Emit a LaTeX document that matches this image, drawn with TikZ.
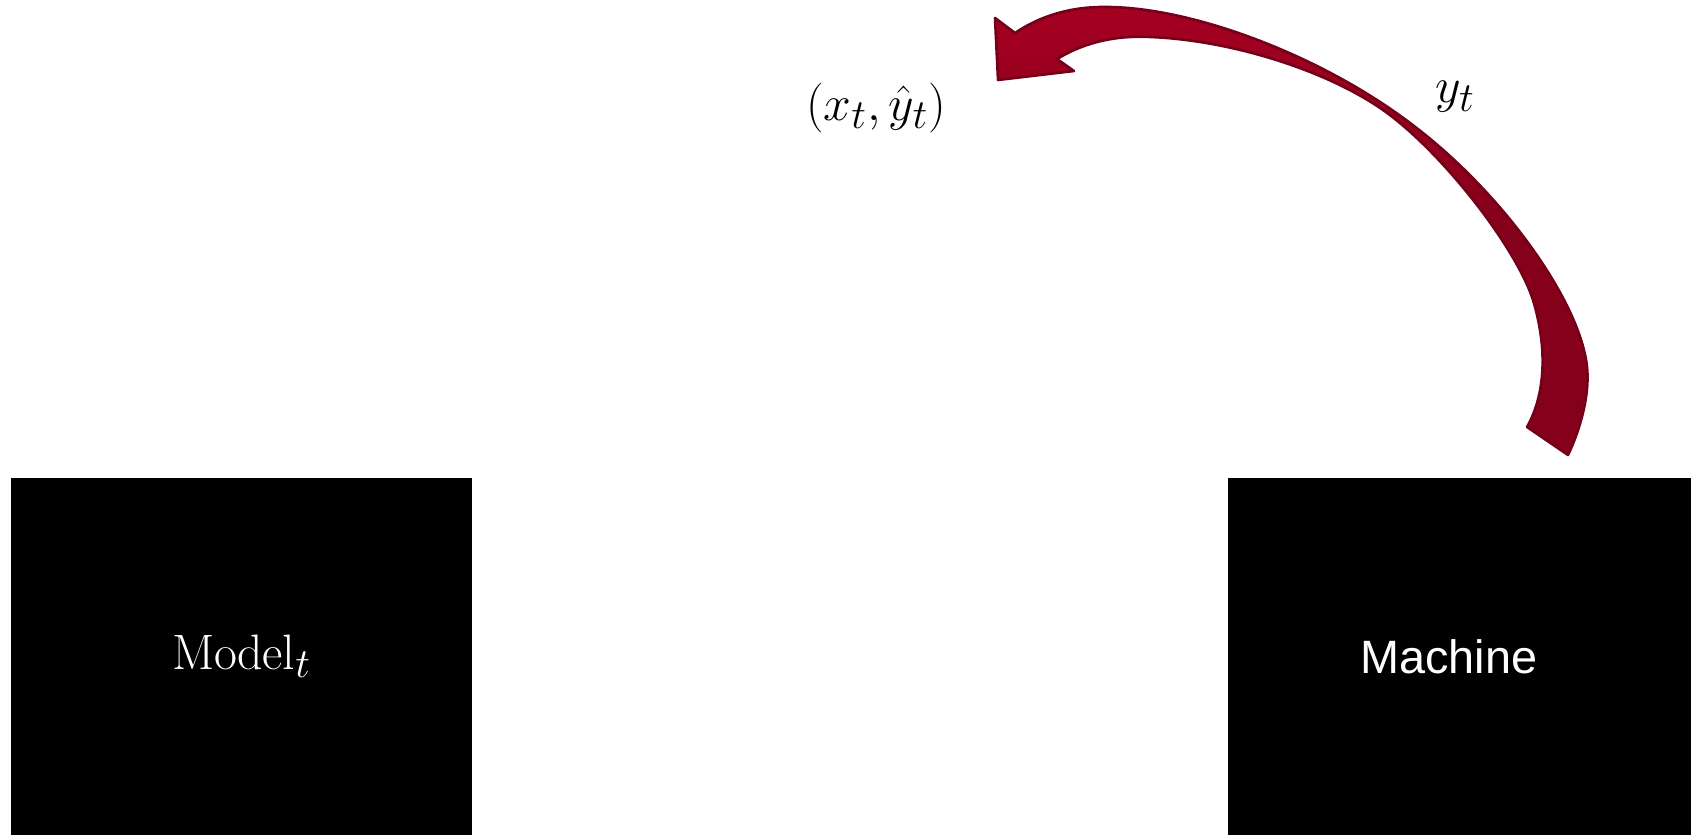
\documentclass[tikz,border=0pt]{standalone}
\usepackage{amsmath}
\usepackage{fontspec}
\usepackage{tikz}
\usetikzlibrary{positioning}
\newfontfamily\machinefont{Liberation Sans}
\definecolor{arrowtop}{HTML}{A50021}
\definecolor{arrowbot}{HTML}{85001A}
\definecolor{arrowline}{HTML}{74001A}
\tikzset{
    block/.style={rectangle, fill=black, text=white, inner sep=0pt, minimum width=230.5pt, minimum height=178.5pt},
    mathlabel/.style={inner sep=0pt, font=\Huge},
    bigarrow/.style={draw=arrowline, line width=1.3pt, line join=round, top color=arrowtop, bottom color=arrowbot, middle color=arrowbot}
}

\begin{document}
\begin{tikzpicture}[x=0.5pt, y=-0.5pt]
    \useasboundingbox (0,0) rectangle (1691,835);
    \node [block, font=\Huge] (model) at (241.5,656.5) {$\mathrm{Model}_t$};
    \node [block, right=377.5pt of model, minimum width=232pt, font=\machinefont\fontsize{23.4}{28}\selectfont] (machine) {Machine\hspace*{11pt}};
    \node [mathlabel] (pair) at (876,108) {$(x_t,\hat{y}_t)$};
    \node [mathlabel] (ylabel) at (1455,97) {$y_t$};

    % curved feedback arrow above the machine
    \path [bigarrow] (995,18) -- (1015,33)
        .. controls (1040,16) and (1070,7) .. (1103,7)
        .. controls (1190,6) and (1320,55) .. (1410,123)
        .. controls (1500,190) and (1580,300) .. (1587,367)
        .. controls (1590,395) and (1580,430) .. (1568,455)
        -- (1527,427)
        .. controls (1545,395) and (1548,350) .. (1533,300)
        .. controls (1515,245) and (1440,150) .. (1383,110)
        .. controls (1326,70) and (1230,40) .. (1150,37)
        .. controls (1110,35) and (1080,45) .. (1057,59)
        -- (1074,71) -- (998,80) -- cycle;
\end{tikzpicture}
\end{document}
